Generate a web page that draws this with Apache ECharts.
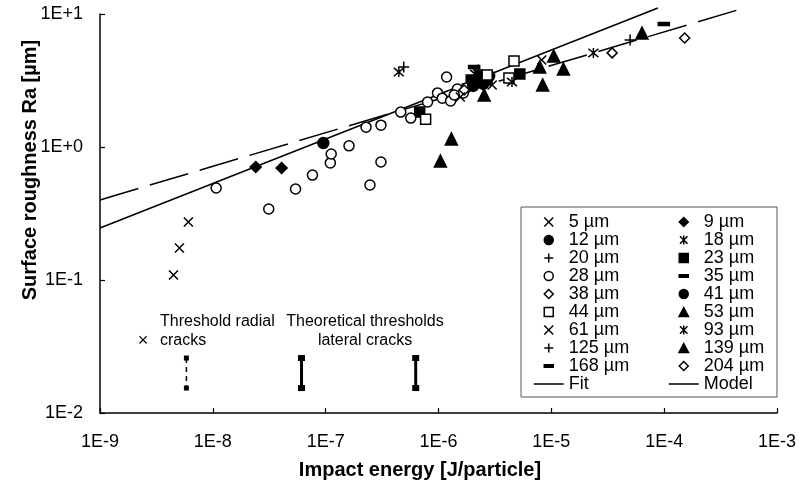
<!DOCTYPE html>
<html><head><meta charset="utf-8">
<script src="https://cdn.jsdelivr.net/npm/echarts@6/dist/echarts.min.js"></script>
<style>html,body{margin:0;padding:0;background:#fff}#c{width:799px;height:488px}</style>
</head><body><div id="c"></div>
<script>
// ---- tick labels ----
const xTickLabels = ['1E-9','1E-8','1E-7','1E-6','1E-5','1E-4','1E-3'];
const yTickLabels = ['1E-2','1E-1','1E+0','1E+1'];

// ---- data: [impact energy J/particle, Ra µm] ----
const d5   = [[4.48e-9,0.109],[5.06e-9,0.174],[6.07e-9,0.273]];
const d9   = [[2.40e-8,0.708],[4.07e-8,0.695]];
const d12  = [[9.53e-8,1.07],[2.49e-6,2.98]];
const d18  = [[4.45e-7,3.66],[2.11e-6,3.54]];
const d20  = [[4.92e-7,4.00],[2.25e-6,3.79],[1.80e-6,2.98]];
const d23  = [[6.81e-7,1.83],[1.95e-6,3.19],[2.34e-6,3.42],[2.70e-6,3.19],[5.26e-6,3.54]];
const d28  = [[1.07e-8,0.492],[3.13e-8,0.342],[5.41e-8,0.483],[7.64e-8,0.615],[1.10e-7,0.759],[1.12e-7,0.886],
              [1.61e-7,1.02],[2.28e-7,1.41],[3.09e-7,1.46],[2.47e-7,0.518],[3.09e-7,0.771],[4.63e-7,1.83],
              [5.68e-7,1.65],[8.00e-7,2.18],[9.80e-7,2.55],[1.08e-6,2.33],[1.28e-6,2.22],[1.47e-6,2.73],
              [1.18e-6,3.36],[1.76e-6,2.78],[1.66e-6,2.55],[1.38e-6,2.46]];
const d35  = [[2.07e-6,4.00]];
const d38  = [[1.69e-6,2.68]];
const d41  = [[2.03e-6,2.88],[2.81e-6,3.42]];
const d44  = [[7.69e-7,1.62],[2.70e-6,3.48],[4.21e-6,3.30],[4.67e-6,4.43]];
const d53  = [[1.04e-6,0.785],[1.30e-6,1.15],[2.54e-6,2.46]];
const d61  = [[1.56e-6,2.38],[8.22e-6,4.51],[2.99e-6,2.93]];
const d93  = [[4.48e-6,3.08],[2.36e-5,5.10]];
const d125 = [[4.99e-5,6.38]];
const d139 = [[7.89e-6,4.00],[1.05e-5,4.83],[1.28e-5,3.86],[8.38e-6,2.93],[6.36e-5,7.19]];
const d168 = [[9.93e-5,8.41]];
const d204 = [[3.46e-5,5.10],[1.52e-4,6.60]];

const fitLine   = [[1e-9,0.40],[4.45e-4,10.7]];
const modelLine = [[1e-9,0.246],[8.8e-5,11.1]];

// theoretical thresholds (vertical bars)
const thresholdRadial   = [[5.83e-9,0.0259],[5.83e-9,0.0154]];
const thresholdLateralA = [[6.11e-8,0.0259],[6.11e-8,0.0154]];
const thresholdLateralB = [[6.28e-7,0.0259],[6.28e-7,0.0154]];

const legendCol1 = ['5 µm','12 µm','20 µm','28 µm','38 µm','44 µm','61 µm','125 µm','168 µm','Fit'];
const legendCol2 = ['9 µm','18 µm','23 µm','35 µm','41 µm','53 µm','93 µm','139 µm','204 µm','Model'];

const FONT = "'Liberation Sans', Arial, sans-serif";
const SYM = {
  cross:    'path://M0,0L10,10M10,0L0,10',
  plus:     'path://M5,0L5,10M0,5L10,5',
  star:     'path://M0,0L10,10M10,0L0,10M5,-1L5,11',
  dash:     'path://M0,0M10,10M0,3.6L10,3.6L10,6.4L0,6.4Z',
  diamond:  'path://M5,0L10,5L5,10L0,5Z',
  square:   'path://M0,0L10,0L10,10L0,10Z',
  triangle: 'path://M5,0L10,9.5L0,9.5Z'
};

function sc(name, data, symbol, size, filled) {
  return {
    name, type: 'scatter', data, symbol, symbolSize: size,
    itemStyle: { color: filled ? '#000' : '#fff', borderColor: '#000', borderWidth: 1.5, opacity: 1 },
    z: 3
  };
}

const series = [
  sc('5 µm', d5, SYM.cross, 9, true),
  sc('9 µm', d9, SYM.diamond, 11, true),
  sc('12 µm', d12, 'circle', 11, true),
  sc('18 µm', d18, SYM.star, 10, true),
  sc('20 µm', d20, SYM.plus, 11, true),
  sc('23 µm', d23, SYM.square, 10, true),
  sc('28 µm', d28, 'circle', 10, false),
  sc('35 µm', d35, SYM.dash, 11, true),
  sc('38 µm', d38, SYM.diamond, 10, false),
  sc('41 µm', d41, 'circle', 11, true),
  sc('44 µm', d44, SYM.square, 10, false),
  sc('53 µm', d53, SYM.triangle, 12, true),
  sc('61 µm', d61, SYM.cross, 9, true),
  sc('93 µm', d93, SYM.star, 10, true),
  sc('125 µm', d125, SYM.plus, 11, true),
  sc('139 µm', d139, SYM.triangle, 12, true),
  sc('168 µm', d168, SYM.dash, 11, true),
  sc('204 µm', d204, SYM.diamond, 10, false),
  { name: 'Fit', type: 'line', data: fitLine, symbol: 'none', silent: true, clip: false,
    itemStyle: { color: '#000' },
    lineStyle: { color: '#000', width: 1.5, type: [40, 12] }, z: 2 },
  { name: 'Model', type: 'line', data: modelLine, symbol: 'none', silent: true, clip: false,
    itemStyle: { color: '#000' },
    lineStyle: { color: '#000', width: 1.5, type: 'solid' }, z: 2 },
  { name: 'thrRadial', type: 'line', data: thresholdRadial, symbol: 'rect', symbolSize: [5, 5],
    itemStyle: { color: '#000' }, lineStyle: { color: '#000', width: 1.5, type: [5, 4] } },
  { name: 'thrLatA', type: 'line', data: thresholdLateralA, symbol: 'rect', symbolSize: [7, 6],
    itemStyle: { color: '#000' }, lineStyle: { color: '#000', width: 3 } },
  { name: 'thrLatB', type: 'line', data: thresholdLateralB, symbol: 'rect', symbolSize: [7, 6],
    itemStyle: { color: '#000' }, lineStyle: { color: '#000', width: 3 } }
];

function expIdx(v, base) { return Math.round(Math.log10(v)) - base; }

function legendData(names) {
  return names.map(n => (n === 'Fit' || n === 'Model')
    ? { name: n, itemStyle: { color: 'rgba(0,0,0,0)', borderColor: 'rgba(0,0,0,0)', borderWidth: 0 } }
    : n);
}

const legendCommon = {
  orient: 'vertical', top: 213, padding: 0, itemWidth: 30, itemHeight: 9, itemGap: 0,
  symbolKeepAspect: true, selectedMode: false,
  textStyle: { fontSize: 18, lineHeight: 18, color: '#000', fontFamily: FONT },
  lineStyle: { type: 'solid', width: 1.5, color: '#000' },
  itemStyle: { borderWidth: 1.5 }
};

const option = {
  animation: false,
  backgroundColor: '#fff',
  textStyle: { fontFamily: FONT },
  grid: { left: 100, right: 17, top: 14, bottom: 75 },
  xAxis: {
    type: 'log', logBase: 10, min: 1e-9, max: 1e-3, splitNumber: 6,
    axisLine: { show: true, lineStyle: { color: '#000', width: 1.5 } },
    axisTick: { show: true, inside: true, length: 5, lineStyle: { color: '#000', width: 1.2 } },
    minorTick: { show: false },
    splitLine: { show: false },
    axisLabel: { color: '#000', fontSize: 18, fontFamily: FONT, margin: 20,
      formatter: v => xTickLabels[expIdx(v, -9)] }
  },
  yAxis: {
    type: 'log', logBase: 10, min: 0.01, max: 10, splitNumber: 3,
    axisLine: { show: true, lineStyle: { color: '#000', width: 1.5 } },
    axisTick: { show: true, inside: true, length: 5, lineStyle: { color: '#000', width: 1.2 } },
    minorTick: { show: false },
    splitLine: { show: false },
    axisLabel: { color: '#000', fontSize: 18, fontFamily: FONT, margin: 17,
      formatter: v => yTickLabels[expIdx(v, -2)] }
  },
  legend: [
    Object.assign({}, legendCommon, { data: legendData(legendCol1), left: 533 }),
    Object.assign({}, legendCommon, { data: legendData(legendCol2), left: 668 })
  ],
  graphic: [
    { type: 'rect', shape: { x: 521, y: 207, width: 256, height: 190 },
      style: { fill: 'none', stroke: '#555', lineWidth: 1 }, z: 10 },
    { type: 'text', x: 30, y: 170, rotation: Math.PI / 2,
      style: { text: 'Surface roughness Ra [µm]', font: 'bold 20px ' + FONT, fill: '#000',
        textAlign: 'center', textVerticalAlign: 'middle' } },
    { type: 'text', x: 420, y: 470,
      style: { text: 'Impact energy [J/particle]', font: 'bold 20px ' + FONT, fill: '#000',
        textAlign: 'center', textVerticalAlign: 'middle' } },
    { type: 'text', x: 160, y: 322,
      style: { text: 'Threshold radial', font: '16px ' + FONT, fill: '#000', textAlign: 'left', textVerticalAlign: 'middle' } },
    { type: 'text', x: 160, y: 341,
      style: { text: 'cracks', font: '16px ' + FONT, fill: '#000', textAlign: 'left', textVerticalAlign: 'middle' } },
    { type: 'text', x: 143, y: 341,
      style: { text: '×', font: '18px ' + FONT, fill: '#000', textAlign: 'center', textVerticalAlign: 'middle' } },
    { type: 'text', x: 365, y: 322,
      style: { text: 'Theoretical thresholds', font: '16px ' + FONT, fill: '#000', textAlign: 'center', textVerticalAlign: 'middle' } },
    { type: 'text', x: 365, y: 341,
      style: { text: 'lateral cracks', font: '16px ' + FONT, fill: '#000', textAlign: 'center', textVerticalAlign: 'middle' } }
  ],
  series
};

const chart = echarts.init(document.getElementById('c'), null, { renderer: 'canvas' });
chart.setOption(option);
</script>
</body></html>
